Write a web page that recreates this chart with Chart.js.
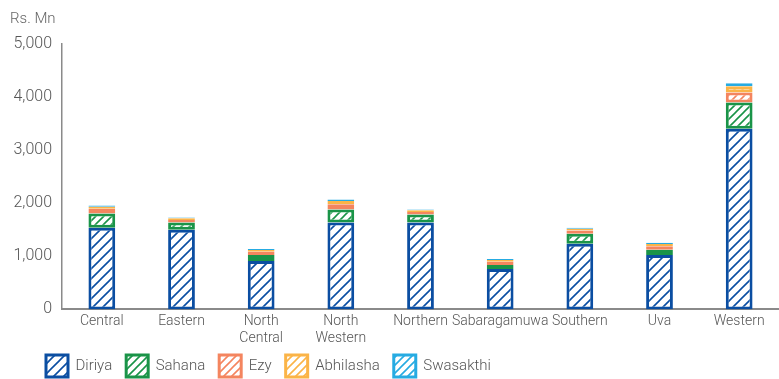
<!DOCTYPE html>
<html>
<head>
<meta charset="utf-8">
<script src="https://cdn.jsdelivr.net/npm/chart.js@4/dist/chart.umd.min.js"></script>
<style>
  html, body { margin: 0; padding: 0; background: #fff; }
  #wrap { width: 779px; height: 379px; position: relative; }
</style>
</head>
<body>
<div id="wrap"><canvas id="chart"></canvas></div>
<script>
// categories and values (Rs. Mn)
var provinces = ['Central', 'Eastern', ['North', 'Central'], ['North', 'Western'], 'Northern', 'Sabaragamuwa', 'Southern', 'Uva', 'Western'];
var diriya    = [1540, 1500,  912, 1635, 1635,  760, 1236, 1027, 3403];
var sahana    = [ 266,  135,  115,  247,  152,   76,  190,   95,  494];
var ezy       = [  90,   50,   60,  100,   50,   60,   60,   70,  190];
var abhilasha = [  40,   30,   30,   60,   30,   35,   35,   40,  115];
var swasakthi = [  22,   15,   23,   30,   15,   19,   19,   23,   57];
var yTicks    = [0, 1000, 2000, 3000, 4000, 5000];

var colors = {
  diriya: '#0b4ea2',
  sahana: '#1a9448',
  ezy: '#f4855f',
  abhilasha: '#fbb447',
  swasakthi: '#26abe2'
};

var FONT = 'Roboto';

// diagonal hatch fill like the original
function hatch(color, size, lw) {
  var c = document.createElement('canvas');
  c.width = size; c.height = size;
  var g = c.getContext('2d');
  g.fillStyle = '#fff';
  g.fillRect(0, 0, size, size);
  g.strokeStyle = color;
  g.lineWidth = lw;
  g.beginPath();
  g.moveTo(-1, size + 1); g.lineTo(size + 1, -1);
  g.moveTo(-1 - size, size + 1); g.lineTo(1, -1);
  g.moveTo(size - 1, size + 1); g.lineTo(2 * size + 1, -1);
  g.stroke();
  return g.createPattern(c, 'repeat');
}

function ds(label, data, color, size) {
  return {
    label: label,
    data: data,
    backgroundColor: hatch(color, size, 1.6),
    borderColor: color,
    borderWidth: 3,
    borderSkipped: false
  };
}

// the legend sits tighter at the bottom and a bit to the right in the original
var legendTweak = {
  id: 'legendTweak',
  afterInit: function(chart) {
    var lg = chart.legend;
    var fit = lg.fit;
    lg.fit = function() {
      fit.call(this);
      this._fullH = this.height;
      this.height -= 18;
    };
  },
  afterLayout: function(chart) {
    var lg = chart.legend;
    lg.left += 22;
    lg.right += 22;
    lg.top -= 10;
    lg.height = lg._fullH;
    lg.bottom = lg.top + lg.height;
  }
};

var ctx = document.getElementById('chart').getContext('2d');
var chart = new Chart(ctx, {
  type: 'bar',
  data: {
    labels: provinces,
    datasets: [
      ds('Diriya', diriya, colors.diriya, 10),
      ds('Sahana', sahana, colors.sahana, 8),
      ds('Ezy', ezy, colors.ezy, 8),
      ds('Abhilasha', abhilasha, colors.abhilasha, 8),
      ds('Swasakthi', swasakthi, colors.swasakthi, 8)
    ]
  },
  plugins: [legendTweak],
  options: {
    responsive: true,
    maintainAspectRatio: false,
    animation: false,
    barPercentage: 0.42,
    categoryPercentage: 0.8,
    layout: { padding: { left: 10, right: 0, top: 0, bottom: 0 } },
    plugins: {
      title: {
        display: true,
        text: 'Rs. Mn',
        align: 'start',
        color: '#666',
        font: { family: FONT, size: 15, weight: 300 },
        padding: { top: 10, bottom: 16 }
      },
      legend: {
        position: 'bottom',
        align: 'start',
        labels: {
          color: '#555',
          font: { family: FONT, size: 15, weight: 300 },
          boxWidth: 22,
          boxHeight: 22,
          padding: 14
        }
      },
      tooltip: { enabled: false }
    },
    scales: {
      x: {
        stacked: true,
        grid: { display: false, drawTicks: false },
        border: { color: '#8a8a8a', width: 2 },
        ticks: {
          color: '#555',
          font: { family: FONT, size: 14, weight: 300 },
          padding: 4,
          maxRotation: 0,
          autoSkip: false
        }
      },
      y: {
        stacked: true,
        min: 0,
        max: 5000,
        afterBuildTicks: function(axis) {
          axis.ticks = yTicks.map(function(v) { return { value: v }; });
        },
        afterFit: function(axis) {
          axis.width = 52;
        },
        grid: { display: false, drawTicks: false },
        border: { color: '#8a8a8a', width: 1.5 },
        ticks: {
          color: '#555',
          font: { family: FONT, size: 16, weight: 300 },
          padding: 10,
          callback: function(v) { return v.toLocaleString('en-US'); }
        }
      }
    }
  }
});
</script>
</body>
</html>
